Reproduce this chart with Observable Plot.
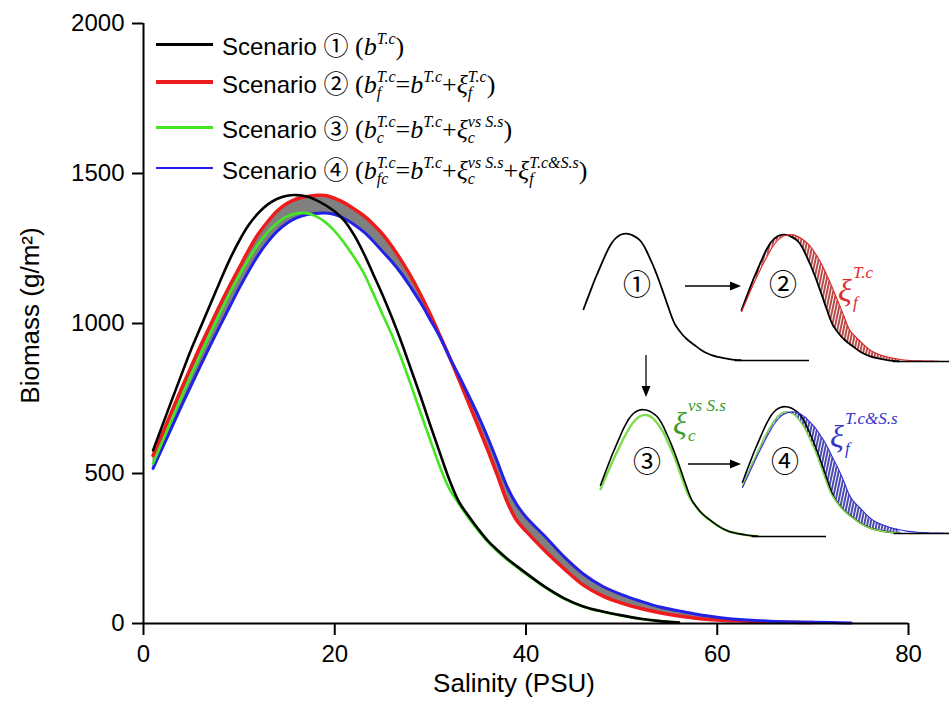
<!DOCTYPE html>
<html><head><meta charset="utf-8">
<script src="https://cdn.jsdelivr.net/npm/d3@7"></script>
<script src="https://cdn.jsdelivr.net/npm/@observablehq/plot@0.6"></script>
<style>
body{margin:0;background:#fff;overflow:hidden;}
#wrap{position:relative;width:949px;height:702px;overflow:hidden;background:#fff;font-family:"Liberation Sans",Arial,sans-serif;color:#000;}
.row{position:absolute;left:156px;height:0;}
.sw{position:absolute;left:0;width:57px;}
.lt{position:absolute;left:66px;white-space:nowrap;font-size:24px;line-height:24px;}
.m{font-family:"Liberation Serif","Times New Roman",serif;font-size:26px;}
.i{font-style:italic;}
.cd{font-family:"Noto Sans CJK SC",sans-serif;font-size:25px;}
.sup1{position:relative;top:-11px;font-size:16px;}
.ss{position:relative;display:inline-block;line-height:0;}
.sp{position:relative;top:-11px;font-size:16px;}
.sb{position:absolute;left:0;top:0;font-size:16px;line-height:16px;}
.circ{position:absolute;font-family:"Noto Sans CJK SC",sans-serif;font-size:28px;line-height:28px;transform:translate(-50%,-50%);}
.xl{position:absolute;font-family:"Liberation Serif","Times New Roman",serif;font-style:italic;}
.xl .g{font-size:32px;line-height:32px;position:absolute;left:0;top:0;}
.xl .u{font-size:17px;line-height:17px;position:absolute;white-space:nowrap;}
</style></head>
<body><div id="wrap"></div>
<script>
// ---- data ----
const salinity = [1,2,3,4,5,6,7,8,9,10,11,12,13,14,15,16,17,18,19,20,21,22,23,24,25,26,27,28,29,30,31,32,33,34,35,36,37,38,39,40,42,44,46,48,50,52,54,56,58,60,62,64,66,68,70,72,74];
const scenario1 = [577,663,748,832,915,990,1065,1140,1212,1275,1328,1368,1397,1416,1426,1428,1424,1412,1395,1373,1343,1296,1236,1166,1095,1018,935,845,755,660,568,478,405,358,315,276,245,217,192,168,122,84,57,40,27,16,8,3,null,null,null,null,null,null,null,null,null];
const scenario2 = [560,635,710,785,857,928,995,1062,1125,1185,1245,1298,1340,1376,1400,1415,1423,1427,1427,1417,1402,1382,1360,1332,1298,1256,1208,1155,1095,1030,960,888,812,735,657,578,495,408,345,308,242,182,128,92,68,50,36,25,17,12,9,7,5,4,3,null,null];
const scenario3 = [533,608,683,757,830,900,968,1035,1100,1160,1215,1265,1305,1336,1357,1367,1368,1358,1338,1308,1268,1222,1170,1102,1030,960,880,792,700,610,522,448,398,352,310,272,241,213,189,165,120,82,56,39,26,15,8,3,null,null,null,null,null,null,null,null,null];
const scenario4 = [517,587,657,727,795,862,928,992,1055,1117,1175,1228,1272,1308,1334,1352,1362,1367,1368,1363,1350,1330,1306,1275,1240,1205,1165,1118,1068,1012,955,888,825,760,693,620,540,458,398,355,290,222,165,124,96,74,55,42,30,21,14,10,7,5,4,3,2];
const xTicks = [0,20,40,60,80];
const yTicks = [0,500,1000,1500,2000];
const xLabel = "Salinity (PSU)";
const yLabel = "Biomass (g/m²)";

const rows = salinity.map((x,i)=>({x, s1:scenario1[i], s2:scenario2[i], s3:scenario3[i], s4:scenario4[i]}));
const C = {s1:"#000000", s2:"#ee1c1c", s3:"#44e622", s4:"#2222e6"};
const curve = "catmull-rom";
const wrap = document.getElementById("wrap");
const fmt = d3.format("d");

const main = Plot.plot({
  width:949, height:702, marginLeft:143, marginRight:41, marginTop:23, marginBottom:79,
  x:{domain:[0,80]}, y:{domain:[0,2000]},
  style:{fontFamily:"'Liberation Sans', Arial, sans-serif", background:"white", color:"black", overflow:"visible"},
  marks:[
    Plot.areaY(rows.filter(d=>d.s2!=null && d.s4!=null), {x:"x", y1:"s4", y2:"s2", fill:"#808080", curve}),
    Plot.lineY(rows, {x:"x", y:"s2", stroke:C.s2, strokeWidth:3.5, curve}),
    Plot.lineY(rows, {x:"x", y:"s4", stroke:C.s4, strokeWidth:3, curve}),
    Plot.lineY(rows, {x:"x", y:"s3", stroke:C.s3, strokeWidth:2.6, curve}),
    Plot.lineY(rows, {x:"x", y:"s1", stroke:C.s1, strokeWidth:2.6, curve}),
    Plot.ruleX([0], {y1:0, y2:2000, strokeWidth:2}),
    Plot.ruleY([0], {x1:0, x2:80, strokeWidth:2}),
    Plot.axisX({ticks:xTicks, tickSize:12, tickPadding:9, fontSize:24, strokeWidth:2, label:null, tickFormat:fmt}),
    Plot.axisY({ticks:yTicks, tickSize:11, tickPadding:8, fontSize:24, strokeWidth:2, label:null, tickFormat:fmt}),
    Plot.text([xLabel], {frameAnchor:"bottom", dx:-12, dy:60, lineAnchor:"middle", textAnchor:"middle", fontSize:26}),
    Plot.text([yLabel], {frameAnchor:"left", dx:-113, dy:-8, rotate:-90, lineAnchor:"middle", textAnchor:"middle", fontSize:26})
  ]
});
wrap.append(main);

// ---- overlay svg: patterns + arrows ----
const ov = d3.create("svg").attr("width",949).attr("height",702)
  .style("position","absolute").style("left","0px").style("top","0px").style("pointer-events","none");
const defs = ov.append("defs");
function hatch(id, col){
  const p = defs.append("pattern").attr("id",id).attr("patternUnits","userSpaceOnUse")
    .attr("width",3).attr("height",8).attr("patternTransform","rotate(12)");
  p.append("rect").attr("width",3).attr("height",8).attr("fill",col);
  p.append("rect").attr("x",2).attr("width",1).attr("height",8).attr("fill","#ffffff");
}
hatch("hatchRed","#b84a4a");
hatch("hatchBlue","#4a4ab0");
function arrow(x1,y1,x2,y2){
  const dx=x2-x1, dy=y2-y1, L=Math.hypot(dx,dy), ux=dx/L, uy=dy/L;
  const hl=11, hw=4.5;
  const bx=x2-ux*hl, by=y2-uy*hl;
  ov.append("line").attr("x1",x1).attr("y1",y1).attr("x2",bx).attr("y2",by).attr("stroke","#000").attr("stroke-width",1.3);
  ov.append("polygon").attr("points",`${x2},${y2} ${bx-uy*hw},${by+ux*hw} ${bx+uy*hw},${by-ux*hw}`).attr("fill","#000");
}
arrow(685,286,741,286);
arrow(688,464,741,464);
arrow(646,355,646,397);

// ---- insets: same series, drawn small ----
function inset(left, top, marks){
  const p = Plot.plot({width:226, height:135, marginLeft:0, marginRight:0, marginTop:4, marginBottom:4,
    x:{domain:[1,80], axis:null}, y:{domain:[0,1430], axis:null},
    style:{background:"transparent", overflow:"visible"}, marks});
  p.style.position="absolute"; p.style.left=left+"px"; p.style.top=top+"px";
  wrap.append(p);
}
const base = Plot.ruleY([0], {x1:54, x2:80, stroke:"#000", strokeWidth:1.6});
inset(583, 229, [
  Plot.lineY(rows, {x:"x", y:"s1", stroke:"#000", strokeWidth:1.8, curve}), base
]);
inset(741, 230, [
  Plot.areaY(rows.filter(d=>d.s1!=null), {x:"x", y1:"s1", y2:"s2", fill:"url(#hatchRed)", curve}),
  Plot.lineY(rows, {x:"x", y:"s1", stroke:"#000", strokeWidth:1.8, curve}),
  Plot.lineY(rows, {x:"x", y:"s2", stroke:"#dd2020", strokeWidth:1.1, curve}), base
]);
inset(600, 405, [
  Plot.lineY(rows, {x:"x", y:"s3", stroke:"#7ddc4a", strokeWidth:2.4, curve}),
  Plot.lineY(rows, {x:"x", y:"s1", stroke:"#000", strokeWidth:1.6, curve}), base
]);
inset(742, 402, [
  Plot.areaY(rows.filter(d=>d.s3!=null), {x:"x", y1:"s3", y2:"s4", fill:"url(#hatchBlue)", curve}),
  Plot.lineY(rows, {x:"x", y:"s1", stroke:"#000", strokeWidth:1.6, curve}),
  Plot.lineY(rows, {x:"x", y:"s3", stroke:"#7ddc4a", strokeWidth:1.4, curve}),
  Plot.lineY(rows, {x:"x", y:"s4", stroke:"#3030d0", strokeWidth:1.1, curve}), base
]);
wrap.append(ov.node());

// circled numbers in insets
[["①",637,283],["②",783,283],["③",647,460],["④",785,460]].forEach(([t,x,y])=>{
  const d=document.createElement("div"); d.className="circ"; d.textContent=t;
  d.style.left=x+"px"; d.style.top=y+"px"; wrap.append(d);
});
// xi labels
function xi(x,y,col,sup,sub,supDx){
  const d=document.createElement("div"); d.className="xl"; d.style.left=x+"px"; d.style.top=y+"px"; d.style.color=col;
  d.innerHTML=`<span class="g">ξ</span><span class="u" style="left:${supDx}px;top:-10px">${sup}</span><span class="u" style="left:15px;top:20px">${sub}</span>`;
  wrap.append(d);
}
xi(838,274,"#dd2a2a","T.c","f",15);
xi(673,407,"#3a9a2a","vs S.s","c",15);
xi(830,420,"#3535c8","T.c&amp;S.s","f",15);

// ---- legend ----
const legend = [
  {y:44, col:C.s1, w:3, html:`Scenario <span class="cd">①</span> <span class="m">(<span class="i">b</span><span class="i sup1">T.c</span>)</span>`},
  {y:82, col:C.s2, w:4, html:`Scenario <span class="cd">②</span> <span class="m">(<span class="i">b</span><span class="ss i"><span class="sp">T.c</span><span class="sb">f</span></span>=<span class="i">b</span><span class="i sup1">T.c</span>+<span class="i">ξ</span><span class="ss i"><span class="sp">T.c</span><span class="sb">f</span></span>)</span>`},
  {y:127, col:C.s3, w:3, html:`Scenario <span class="cd">③</span> <span class="m">(<span class="i">b</span><span class="ss i"><span class="sp">T.c</span><span class="sb">c</span></span>=<span class="i">b</span><span class="i sup1">T.c</span>+<span class="i">ξ</span><span class="ss i"><span class="sp">vs S.s</span><span class="sb">c</span></span>)</span>`},
  {y:168, col:C.s4, w:2, html:`Scenario <span class="cd">④</span> <span class="m">(<span class="i">b</span><span class="ss i"><span class="sp">T.c</span><span class="sb">fc</span></span>=<span class="i">b</span><span class="i sup1">T.c</span>+<span class="i">ξ</span><span class="ss i"><span class="sp">vs S.s</span><span class="sb">c</span></span>+<span class="i">ξ</span><span class="ss i"><span class="sp">T.c&amp;S.s</span><span class="sb">f</span></span>)</span>`}
];
legend.forEach(r=>{
  const row=document.createElement("div"); row.className="row"; row.style.top=r.y+"px";
  row.innerHTML=`<div class="sw" style="top:${-r.w/2}px;height:${r.w}px;background:${r.col}"></div><div class="lt" style="top:-12px">${r.html}</div>`;
  wrap.append(row);
});
</script></body></html>
